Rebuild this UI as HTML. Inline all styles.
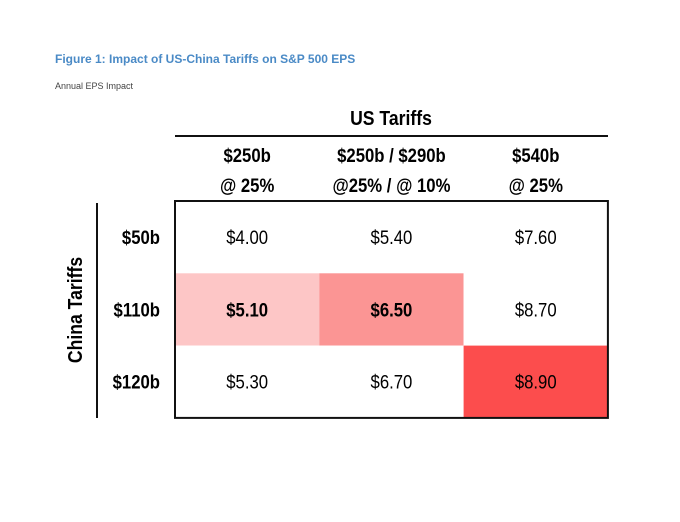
<!DOCTYPE html>
<html><head><meta charset="utf-8"><style>
body{margin:0;width:680px;height:522px;background:#fff;position:relative;overflow:hidden;font-family:"Liberation Sans",sans-serif}
.a{position:absolute}
.t{color:#4a8ac6;font-weight:bold;font-size:12px;left:55px;top:52px}
.s{color:#444;font-size:9px;left:55px;top:81px}
.h{font-family:"Liberation Sans Narrow","Liberation Sans",sans-serif;font-weight:bold;font-size:18px;color:#000;text-align:center;transform:scaleX(0.85)}
</style></head><body>
<div class="a t">Figure 1: Impact of US-China Tariffs on S&amp;P 500 EPS</div>
<div class="a s">Annual EPS Impact</div>
<svg class="a" style="left:0;top:0" width="680" height="522">
<g id="g"></g>
</svg>
<script>
const colLabels1=["$250b","$250b / $290b","$540b"];
const colLabels2=["@ 25%","@25% / @ 10%","@ 25%"];
const rowLabels=["$50b","$110b","$120b"];
const values=[[4.00,5.40,7.60],[5.10,6.50,8.70],[5.30,6.70,8.90]];
const fills=[["#fff","#fff","#fff"],["#fdc6c6","#fb9594","#fff"],["#fff","#fff","#fc4d4d"]];
const NS="http://www.w3.org/2000/svg";
const g=document.getElementById('g');
const x0=175,y0=201,cw=144.3,ch=72.3;
const xs=i=>x0+i*cw, ys=j=>y0+j*ch;
function mk(t,a,txt){const e=document.createElementNS(NS,t);for(const k in a)e.setAttribute(k,a[k]);if(txt!==undefined)e.textContent=txt;g.appendChild(e);return e;}
const F='"Liberation Sans Narrow","Liberation Sans",sans-serif';
values.forEach((row,j)=>row.forEach((v,i)=>{
 const r=mk('rect',{x:xs(i),y:ys(j),width:cw,height:ch,fill:fills[j][i]});
 
 
 const t=mk('text',{x:xs(i)+cw/2,y:ys(j)+ch/2+7,'text-anchor':'middle','font-size':19,'font-family':F,'font-weight':j==1&&i<2?'bold':'normal',transform:`translate(${(xs(i)+cw/2)*0.12},0) scale(0.88,1)`},'$'+v.toFixed(2));
 
 
}));
const box=mk('rect',{x:x0,y:y0,width:cw*3,height:ch*3,fill:'none',stroke:'#111','stroke-width':2});


colLabels1.forEach((l,i)=>{
 const cx=xs(i)+cw/2;
 const a=mk('text',{x:cx,y:162,'text-anchor':'middle','font-size':19,'font-weight':'bold','font-family':F,transform:`translate(${cx*0.12},0) scale(0.88,1)`},l);
 
 
 const b=mk('text',{x:cx,y:192,'text-anchor':'middle','font-size':19,'font-weight':'bold','font-family':F,transform:`translate(${cx*0.12},0) scale(0.88,1)`},colLabels2[i]);
 
 
});
rowLabels.forEach((l,j)=>{
 const t=mk('text',{x:160,y:ys(j)+ch/2+7,'text-anchor':'end','font-size':19,'font-weight':'bold','font-family':F,transform:`translate(${160*0.12},0) scale(0.88,1)`},l);
 
 
});
const ust=mk('text',{x:391,y:125,'text-anchor':'middle','font-size':20,'font-weight':'bold','font-family':F,transform:`translate(${391*0.12},0) scale(0.88,1)`},'US Tariffs');


const hl=mk('line',{x1:175,y1:136,x2:608,y2:136,stroke:'#111','stroke-width':2});


const vl=mk('line',{x1:97,y1:203,x2:97,y2:418,stroke:'#111','stroke-width':2});


const ct=mk('text',{x:0,y:0,'text-anchor':'middle','font-size':20,'font-weight':'bold','font-family':F,transform:'translate(82,310) rotate(-90) scale(0.88,1)'},'China Tariffs');


</script>
</body></html>
